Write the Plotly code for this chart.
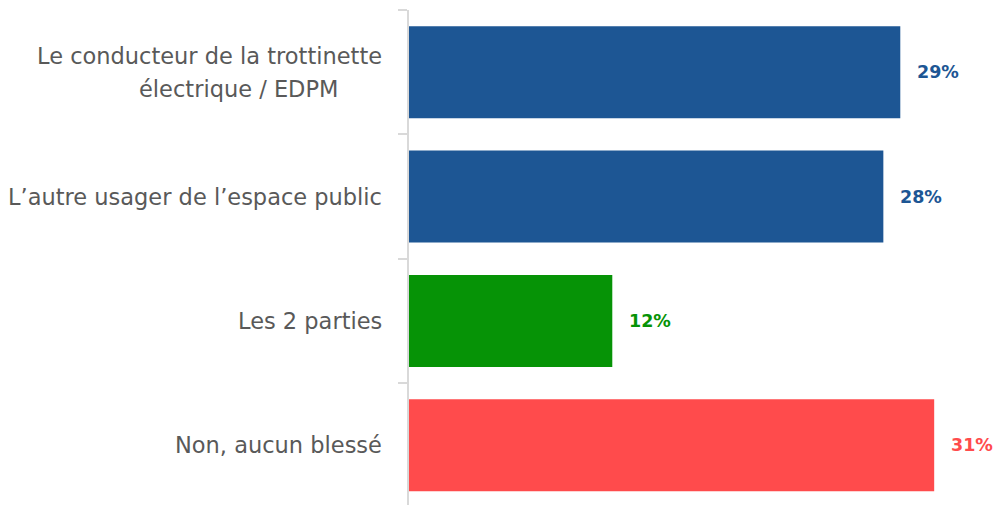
import plotly.graph_objects as go

categories = ["Le conducteur de la trottinette<br>électrique / EDPM",
              "L’autre usager de l’espace public",
              "Les 2 parties",
              "Non, aucun blessé"]
values = [29, 28, 12, 31]
labels = ["29%", "28%", "12%", "31%"]
colors = ["#1D5694", "#1D5694", "#069306", "#FF4B4C"]

FONT = "DejaVu Sans"
LINE_GAP = 33          # px between label lines
LINE_INDENT = [0, 44]  # right-side indent of each label line (px)

fig = go.Figure()
fig.add_trace(go.Bar(
    x=values, y=categories, orientation="h",
    marker=dict(color=colors, line=dict(width=0)),
    width=0.74, hoverinfo="skip", showlegend=False,
))

for cat, v, lab, c in zip(categories, values, labels, colors):
    fig.add_annotation(x=v, y=cat, xref="x", yref="y", text=f"<b>{lab}</b>",
                       showarrow=False, xanchor="left", xshift=15,
                       font=dict(family=FONT, size=17.5, color=c))
    lines = cat.split("<br>")
    n = len(lines)
    for i, ln in enumerate(lines):
        fig.add_annotation(x=0, y=cat, xref="paper", yref="y", text=ln,
                           showarrow=False, xanchor="right",
                           xshift=-25 - (LINE_INDENT[i] if n > 1 else 0),
                           yshift=((n - 1) / 2 - i) * LINE_GAP,
                           font=dict(family=FONT, size=22.5, color="#595959"))

fig.update_layout(
    width=997, height=505,
    margin=dict(l=409, r=12, t=10, b=0),
    paper_bgcolor="white", plot_bgcolor="white",
    font=dict(family=FONT),
    xaxis=dict(range=[0, 34], visible=False, fixedrange=True),
    yaxis=dict(autorange=False, range=[3.48, -0.5], type="category",
               showticklabels=False, showgrid=False, zeroline=False,
               showline=True, linecolor="#D9D9D9", linewidth=2,
               ticks="outside", tickson="boundaries", ticklen=9,
               tickcolor="#D9D9D9", tickwidth=2, fixedrange=True),
)

fig.write_html("out.html", config={"displayModeBar": False, "staticPlot": True},
               post_script="document.body.style.margin='0';")
